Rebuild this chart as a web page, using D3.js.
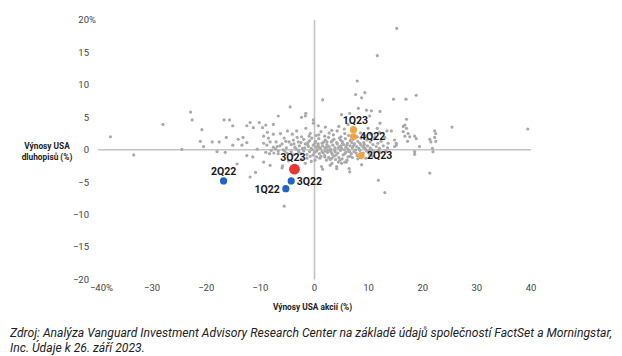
<!DOCTYPE html>
<html><head><meta charset="utf-8">
<script src="https://cdn.jsdelivr.net/npm/d3@7"></script>
<style>body{margin:0;background:#fff}svg{display:block}</style>
</head><body><svg id="c" width="622" height="356"></svg>
<script>
const xTicks = [-40,-30,-20,-10,0,10,20,30,40];
const yTicks = [20,15,10,5,0,-5,-10,-15,-20];
const xTitle = "Výnosy USA akcií (%)";
const yTitle = ["Výnosy USA", "dluhopisů (%)"];
const sourceLines = [
  "Zdroj: Analýza Vanguard Investment Advisory Research Center na základě údajů společností FactSet a Morningstar,",
  "Inc. Údaje k 26. září 2023."
];
// historical quarters: [US stock return, US bond return]
const bgPoints = [
[-37.7,2.0],[-33.4,-0.8],[-28.0,3.9],[-24.5,0.05],[-22.9,5.8],[-22.6,4.6],[-20.8,3.1],[-21.1,1.3],[-20.5,0.5],
[-18.9,1.2],[-17.6,1.2],[-18.0,-0.3],[-16.7,4.6],[-15.7,4.6],[-15.1,3.7],[-16.3,1.9],[-16.5,-0.4],[-15.1,0.7],
[-14.1,1.6],[-14.3,-2.2],[-13.2,1.9],[-13.4,0.7],[-12.5,1.1],[-12.5,3.7],[-11.9,4.2],[-11.3,3.4],[-12.5,-0.9],
[-11.4,-1.1],[-11.9,-4.2],[-10.9,-3.5],[-10.2,4.2],[-10.6,0.1],[-9.6,3.4],[-9.0,3.8],[-9.4,2.1],[-8.5,1.8],
[-7.6,2.4],[-9.4,1.0],[-8.8,0.7],[-8.2,1.2],[-7.6,3.9],[-7.1,1.2],[-6.7,5.2],[-6.4,0.6],[-5.6,1.8],[-5.0,2.9],
[-4.5,6.6],[-4.1,2.4],[-3.3,2.9],[-3.9,1.5],[-3.0,1.2],[-2.4,2.0],[-2.4,5.0],[-1.6,5.6],[-1.6,3.3],[-0.8,2.5],
[-0.2,4.1],[0.7,3.7],[-0.2,4.6],[-1.7,5.2],
[-9.4,-1.9],[-8.2,-2.4],[-8.3,-0.6],[-7.5,-0.5],[-6.7,-0.2],[-7.6,0.4],[-5.9,-2.5],[-5.6,-8.7],[-6.0,-2.8],
[-4.8,-1.7],[-5.1,-0.5],[-3.9,-0.8],[-3.0,-0.05],[-2.4,-1.5],[-1.4,-0.7],[-1.4,-1.3],[-1.7,-2.1],
[1.5,7.7],[15.2,18.7],[11.6,14.5],[7.9,10.6],[7.6,8.5],[9.3,8.8],[8.7,8.0],[14.6,7.8],[16.9,7.8],[18.8,8.4],
[25.4,3.5],[39.4,3.2],[5.0,5.4],[6.5,5.6],[8.1,6.4],[9.6,6.1],[10.5,6.0],[12.1,5.9],[10.2,5.2],[12.1,4.1],
[17.0,4.7],[16.7,3.8],[17.0,3.3],[16.4,3.6],[17.3,2.5],[18.5,2.1],[16.4,2.8],[22.2,2.9],[22.2,1.9],[21.3,1.6],
[19.4,0.5],[15.1,0.7],[11.6,3.3],[9.9,3.3],[13.4,2.9],[14.2,2.9],[13.0,1.9],[16.7,2.1],[17.6,2.0],[17.2,1.3],
[18.8,1.7],[22.4,2.5],[22.4,1.3],[21.5,1.2],[18.5,-0.3],[21.8,0.2],[21.9,-0.3],[18.5,-0.7],[21.3,-3.6],
[11.8,-4.7],[13.0,-6.6],[14.8,0.5],[15.1,1.0],
[1.3,-2.6],[1.5,-3.0],[2.9,-2.4],[3.2,-2.1],[4.1,-2.6],[4.1,-2.9],[5.0,-2.1],[4.4,-1.9],[5.9,-1.9],[6.4,-2.9],
[6.5,-3.4],[8.7,-2.3],[2.9,-1.5],[1.9,-1.1],[0.1,-1.6],[2.2,-1.6],[4.7,-1.6],[3.2,-1.3],[5.6,-1.9],
[2.0,3.5],[3.2,3.0],[4.5,3.6],[5.5,3.2],[6.2,3.9],
[0.3,2.2],[1.2,2.8],[1.9,2.1],[2.7,2.6],[3.5,2.3],[4.2,2.9],[4.9,2.0],[5.6,2.5],[6.3,2.2],[8.5,2.6],[9.3,2.1],
[10.4,2.4],[11.2,2.0],[12.0,2.7],
[-2.0,1.6],[-1.2,1.1],[-0.5,1.8],[0.2,1.3],[0.8,1.7],[1.4,1.0],[2.0,1.5],[2.6,1.9],[3.1,1.2],[3.6,1.6],[4.1,1.1],
[4.6,1.8],[5.1,1.3],[5.7,1.7],[6.1,1.0],[6.6,1.4],[8.0,1.3],[8.6,1.8],[9.1,1.1],[9.7,1.5],[10.3,1.2],[11.0,1.7],
[12.3,1.3],[13.6,1.0],[14.8,1.5],
[-5.2,0.3],[-4.3,0.8],[-3.6,0.4],[-2.8,0.6],[-2.2,0.2],[-1.7,0.9],[-1.1,0.5],[-0.6,0.2],[-0.2,0.7],[0.3,0.4],
[0.7,0.9],[1.1,0.2],[1.5,0.6],[1.9,0.3],[2.3,0.8],[2.7,0.5],[3.0,0.1],[3.4,0.7],[3.8,0.3],[4.2,0.9],[4.6,0.5],
[5.0,0.2],[5.4,0.8],[5.8,0.4],[6.2,0.1],[6.6,0.6],[7.0,0.3],[7.4,0.9],[7.8,0.5],[8.2,0.2],[8.6,0.7],[9.0,0.4],
[9.4,0.1],[9.8,0.6],[10.3,0.3],[10.8,0.8],[11.4,0.5],[12.0,0.2],[12.7,0.6],[13.5,0.3],
[0.1,1.0],[0.9,0.4],[1.7,1.2],[2.5,0.0],[3.3,1.4],[4.4,0.3],[5.2,1.0],[6.0,0.7],[6.9,1.1],[7.6,0.0],[8.4,1.0],
[9.2,0.8],[10.0,-0.1],[11.7,1.0],[-0.9,1.4],[-2.5,1.1],[-3.4,0.1],[-4.7,1.2],[-6.0,0.9],[-7.2,0.1],
[-9.0,-0.4],[-6.7,-0.6],[-5.5,-0.2],[-2.5,-0.6],[-0.9,-0.3],[-0.3,-0.8],[0.4,-0.2],[0.9,-0.6],[1.4,-0.3],
[1.9,-0.9],[2.4,-0.4],[2.9,-0.1],[3.3,-0.7],[3.8,-0.3],[4.3,-0.5],[4.8,-0.1],[5.3,-0.8],[5.8,-0.4],[6.3,-0.2],
[6.8,-0.6],[7.3,-0.3],[7.9,-0.9],[8.4,-0.1],[9.0,-0.5],[9.6,-0.2],[10.2,-0.7],[11.0,-0.3],[12.1,-0.4],[13.2,-0.2],
[0.0,-0.4],[1.2,-1.0],[2.0,-0.2],[3.6,-1.0],[4.5,-1.2],[5.6,-0.6],[6.6,-1.0],[7.0,-1.2],[8.0,-1.4],[6.2,-1.1],
[9.5,-1.3],[-0.6,-1.8],[-2.0,-0.2],[-4.3,-0.3],[-1.8,0.3],[0.5,0.0],[3.7,0.0],[5.5,0.0],[7.2,0.6],[8.8,-0.8],
[-0.4,0.0],[0.6,0.6],[1.6,-0.5],[2.2,0.4],[3.1,-0.4],[4.0,-0.8],[4.9,0.6],[6.5,-0.3],[7.7,-0.5],[9.3,0.3],
[10.6,0.0],[11.8,-0.1],[-1.3,0.8],[-2.9,-0.3],[-3.8,0.9],[-5.8,0.0],[-6.9,0.5],[-8.0,-0.1],[1.0,-1.3],[2.6,-1.2],
[3.9,-1.5],[5.1,-1.4],[6.0,-1.6],[0.8,2.3],[2.3,1.2],[4.8,1.5],[7.1,1.6],[7.9,2.0],[-1.0,2.1],[-3.2,1.9],
[-5.3,1.3],[-6.3,2.5],[-8.7,2.7],[0.4,-1.1],[-0.8,-1.0],[10.7,-1.0]
];
const quarterNames = ["1Q22","2Q22","3Q22","4Q22","1Q23","2Q23","3Q23"];
const quarterStocks = [-5.3,-16.8,-4.3,7.2,7.2,8.6,-3.7];
const quarterBonds = [-6.0,-4.8,-4.8,2.0,3.1,-0.9,-3.0];
const quarterGroup = ["2022","2022","2022","recent","recent","recent","current"];

const svg = d3.select("#c");
const x = d3.scaleLinear().domain([-40,40]).range([98,531]);
const y = d3.scaleLinear().domain([-20,20]).range([279.5,20]);
const axisColor = "#c4c4c4";
const font = "Roboto, 'Noto Sans', sans-serif";

// axes lines
svg.append("line").attr("x1",x(-40)).attr("x2",x(40)).attr("y1",y(0)).attr("y2",y(0))
  .attr("stroke",axisColor).attr("stroke-width",1.6);
svg.append("line").attr("x1",x(0)).attr("x2",x(0)).attr("y1",y(20)).attr("y2",y(-20))
  .attr("stroke",axisColor).attr("stroke-width",1.6);

// y tick labels
const yt = svg.append("g").attr("font-family",font).attr("font-size",9.5).attr("fill","#444");
yTicks.forEach((t,i)=>{
  yt.append("text").attr("x",89).attr("y",y(t)).attr("dy","0.35em").attr("text-anchor","end")
    .text(t<0?"\u2212"+Math.abs(t):String(t));
  if(i===0) yt.append("text").attr("x",89).attr("y",y(t)).attr("dy","0.35em").text("%");
});
// x tick labels
const xt = svg.append("g").attr("font-family",font).attr("font-size",9.5).attr("fill","#444");
xTicks.forEach((t,i)=>{
  const tx = xt.append("text").attr("x",x(t)).attr("y",291).attr("text-anchor","middle")
    .text(t<0?"\u2212"+Math.abs(t):String(t));
  if(i===0){
    const w = tx.node().getComputedTextLength();
    xt.append("text").attr("x",x(t)+w/2).attr("y",291).text("%");
  }
});

// titles
svg.append("text").attr("x",x(0)-2).attr("y",310).attr("text-anchor","middle")
  .attr("font-family",font).attr("font-weight",700).attr("font-size",8.3).attr("fill","#222").text(xTitle);
yTitle.forEach((s,i)=>{
  svg.append("text").attr("x",47).attr("y",149+i*11).attr("text-anchor","middle")
    .attr("font-family",font).attr("font-weight",700).attr("font-size",8.3).attr("fill","#222").text(s);
});

// background points
svg.append("g").selectAll("circle").data(bgPoints).join("circle")
  .attr("cx",d=>x(d[0])).attr("cy",d=>y(d[1])).attr("r",1.6).attr("fill","#a9a9a9");

// highlighted quarters
const colors = {"2022":"#1f64c6","recent":"#f1a545","current":"#e53935"};
const radius = {"2022":3.6,"recent":3.6,"current":5.4};
const q = quarterNames.map((n,i)=>({name:n,sx:quarterStocks[i],by:quarterBonds[i],g:quarterGroup[i]}));
svg.append("g").selectAll("circle").data(q).join("circle")
  .attr("cx",d=>x(d.sx)).attr("cy",d=>y(d.by)).attr("r",d=>radius[d.g]).attr("fill",d=>colors[d.g]);

const labelPos = {
  "1Q22":{dx:-6,dy:0.5,anchor:"end"},
  "2Q22":{dx:0,dy:-9.5,anchor:"middle"},
  "3Q22":{dx:5.5,dy:0,anchor:"start"},
  "4Q22":{dx:6.5,dy:0,anchor:"start"},
  "1Q23":{dx:2,dy:-9.5,anchor:"middle"},
  "2Q23":{dx:6,dy:0,anchor:"start"},
  "3Q23":{dx:-1.5,dy:-11.5,anchor:"middle"}
};
svg.append("g").selectAll("text").data(q).join("text")
  .attr("x",d=>x(d.sx)+labelPos[d.name].dx).attr("y",d=>y(d.by)+labelPos[d.name].dy)
  .attr("dy","0.35em").attr("text-anchor",d=>labelPos[d.name].anchor)
  .attr("font-family",font).attr("font-weight",700).attr("font-size",10.5).attr("fill","#1a1a1a")
  .text(d=>d.name);

// source (condensed italic look: fixed size, horizontally fitted)
let ratio = 1;
sourceLines.forEach((s,i)=>{
  const t = svg.append("text").attr("x",10).attr("y",337+i*15)
    .attr("font-family",font).attr("font-style","italic").attr("font-size",12).attr("fill","#222").text(s);
  const w = t.node().getComputedTextLength();
  if(i===0) ratio = 602/w;
  t.attr("textLength",w*ratio).attr("lengthAdjust","spacingAndGlyphs");
});
</script></body></html>
